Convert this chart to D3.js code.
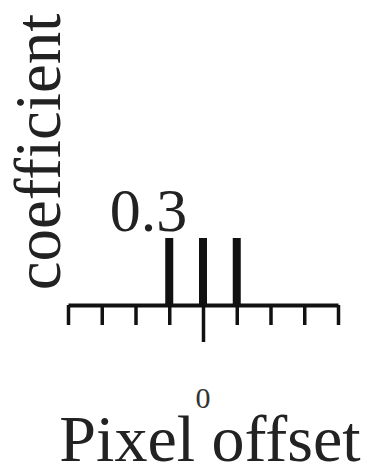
<!DOCTYPE html>
<html><head><meta charset="utf-8">
<script src="https://cdn.jsdelivr.net/npm/d3@7/dist/d3.min.js"></script>
<style>html,body{margin:0;padding:0;background:#fff;}svg{display:block;}</style>
</head><body>
<svg id="c" width="367" height="474"></svg>
<script>
const offsets = [-1, 0, 1];
const coefficients = [0.3, 0.3, 0.3];
const xTicks = [-4, -3, -2, -1, 0, 1, 2, 3, 4];
const xTickLabels = ["0"];
const yLabelValue = "0.3";
const xTitle = "Pixel offset";
const yTitle = "coefficient";

const svg = d3.select("#c");
const font = "'Liberation Serif','Times New Roman',serif";
const x = d3.scaleLinear().domain([-4, 4]).range([68, 338]);
const y = d3.scaleLinear().domain([0, 0.3]).range([305, 238]);

// axis
const axis = d3.axisBottom(x).tickValues(xTicks).tickSize(20).tickSizeOuter(0).tickFormat("");
const g = svg.append("g").attr("transform", `translate(0,${y(0)})`).call(axis);
g.select(".domain").attr("stroke", "#111").attr("stroke-width", 4);
g.selectAll(".tick line").attr("stroke", "#111").attr("stroke-width", 3.5);
g.selectAll(".tick").filter(d => d === 0).select("line").attr("y2", 37);

// bars
svg.selectAll("rect.bar").data(offsets).join("rect")
  .attr("class", "bar")
  .attr("x", (d) => x(d) - 4)
  .attr("width", 8)
  .attr("y", (d, i) => y(coefficients[i]))
  .attr("height", (d, i) => y(0) - y(coefficients[i]))
  .attr("fill", "#111");

// value label
svg.append("text")
  .attr("x", x(-1) + 18).attr("y", y(coefficients[0]) - 7)
  .attr("text-anchor", "end")
  .attr("font-family", font).attr("font-size", 62).attr("fill", "#222")
  .text(yLabelValue);

// tick label
svg.append("text")
  .attr("x", x(0)).attr("y", 408)
  .attr("text-anchor", "middle")
  .attr("font-family", font).attr("font-size", 30).attr("fill", "#333")
  .text(xTickLabels[0]);

// titles
svg.append("text")
  .attr("x", 210).attr("y", 461)
  .attr("text-anchor", "middle")
  .attr("font-family", font).attr("font-size", 66).attr("fill", "#222")
  .text(xTitle);

svg.append("text")
  .attr("transform", "translate(60,152) rotate(-90)")
  .attr("text-anchor", "middle")
  .attr("font-family", font).attr("font-size", 65).attr("fill", "#222")
  .text(yTitle);
</script>
</body></html>
